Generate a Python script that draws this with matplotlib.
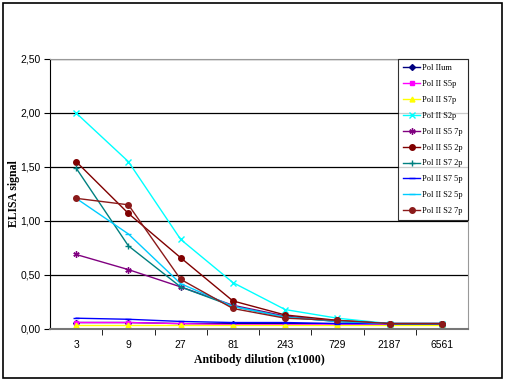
import matplotlib.pyplot as plt
from matplotlib.patches import Rectangle

# Data
dilutions = ["3", "9", "27", "81", "243", "729", "2187", "6561"]

pol_ii_um = [0.06, 0.06, 0.05, 0.05, 0.05, 0.05, 0.05, 0.05]
pol_ii_s5p = [0.06, 0.06, 0.05, 0.04, 0.04, 0.04, 0.04, 0.04]
pol_ii_s7p = [0.04, 0.04, 0.04, 0.04, 0.04, 0.04, 0.04, 0.04]
pol_ii_s2p = [2.00, 1.55, 0.83, 0.43, 0.18, 0.10, 0.05, 0.05]
pol_ii_s5_7p = [0.69, 0.55, 0.39, 0.22, 0.12, 0.07, 0.05, 0.05]
pol_ii_s5_2p = [1.55, 1.07, 0.66, 0.26, 0.13, 0.08, 0.05, 0.05]
pol_ii_s7_2p = [1.49, 0.77, 0.39, 0.21, 0.11, 0.07, 0.05, 0.05]
pol_ii_s7_5p = [0.10, 0.09, 0.07, 0.06, 0.06, 0.05, 0.05, 0.05]
pol_ii_s2_5p = [1.21, 0.88, 0.42, 0.21, 0.11, 0.07, 0.05, 0.05]
pol_ii_s2_7p = [1.21, 1.15, 0.46, 0.19, 0.10, 0.08, 0.05, 0.05]

series = [
    ("Pol IIum", pol_ii_um, "#000080", "D", 3),
    ("Pol II S5p", pol_ii_s5p, "#FF00FF", "s", 3.5),
    ("Pol II S7p", pol_ii_s7p, "#FFFF00", "^", 3.5),
    ("Pol II S2p", pol_ii_s2p, "#00FFFF", "x", 4),
    ("Pol II S5 7p", pol_ii_s5_7p, "#800080", (6, 2, 0), 4.5),
    ("Pol II S5 2p", pol_ii_s5_2p, "#800000", "o", 4),
    ("Pol II S7 2p", pol_ii_s7_2p, "#008080", "+", 4.5),
    ("Pol II S7 5p", pol_ii_s7_5p, "#0000FF", "_", 4),
    ("Pol II S2 5p", pol_ii_s2_5p, "#00CCFF", "_", 5),
    ("Pol II S2 7p", pol_ii_s2_7p, "#8B1A1A", "o", 4),
]

fig = plt.figure(figsize=(5.07, 3.84), dpi=100)
ax = fig.add_axes([50 / 507, 1 - 329 / 384, 418 / 507, 270 / 384])

x = list(range(len(dilutions)))
for name, vals, color, marker, ms in series:
    ax.plot(x, vals, color=color, marker=marker, markersize=ms, linewidth=1,
            markeredgecolor=color, label=name)

ax.set_xlim(-0.5, len(dilutions) - 0.5)
ax.set_ylim(0, 2.5)
ax.set_xticks(x)
ax.set_xticklabels(dilutions, fontsize=7.5, family="Liberation Sans")
ax.set_xticks([i + 0.5 for i in x[:-1]], minor=True)
ax.tick_params(axis="x", which="major", length=0, pad=8)
ax.tick_params(axis="x", which="minor", length=4, direction="out")

yticks = [0, 0.5, 1.0, 1.5, 2.0, 2.5]
ax.set_yticks(yticks)
ax.yaxis.set_major_formatter(plt.FuncFormatter(lambda v, p: ("%.2f" % v).replace(".", ",")))
for lbl in ax.get_yticklabels():
    lbl.set_fontsize(7.5)
    lbl.set_family("Liberation Sans")
ax.tick_params(axis="y", length=4, direction="out", pad=3, labelsize=7.5)

ax.grid(axis="y", color="black", linewidth=0.9)
ax.set_axisbelow(True)
for side in ["top", "right"]:
    ax.spines[side].set_color("#999999")
ax.spines["left"].set_color("black")
ax.spines["bottom"].set_color("#777777")
ax.spines["bottom"].set_linewidth(1.5)

ax.set_xlabel("Antibody dilution (x1000)", fontsize=8.5, fontweight="bold",
              family="Liberation Serif", labelpad=3)
ax.set_ylabel("ELISA signal", fontsize=8.5, fontweight="bold",
              family="Liberation Serif")
ax.yaxis.set_label_coords(-30 / 418, 0.5)

leg = ax.legend(loc="upper right", bbox_to_anchor=(1.0, 1.0), frameon=True,
                fancybox=False, edgecolor="black",
                prop={"family": "Liberation Serif", "size": 6},
                handlelength=2.0, labelspacing=0.95, borderpad=0.6,
                handletextpad=0.3, borderaxespad=0)
leg.get_frame().set_linewidth(0.8)

# outer chart border
fig.patches.append(Rectangle((3 / 507, 1 - 378 / 384), 499 / 507, 375 / 384,
                             transform=fig.transFigure, fill=False,
                             edgecolor="black", linewidth=1.2))

fig.savefig("out.png", dpi=100)
